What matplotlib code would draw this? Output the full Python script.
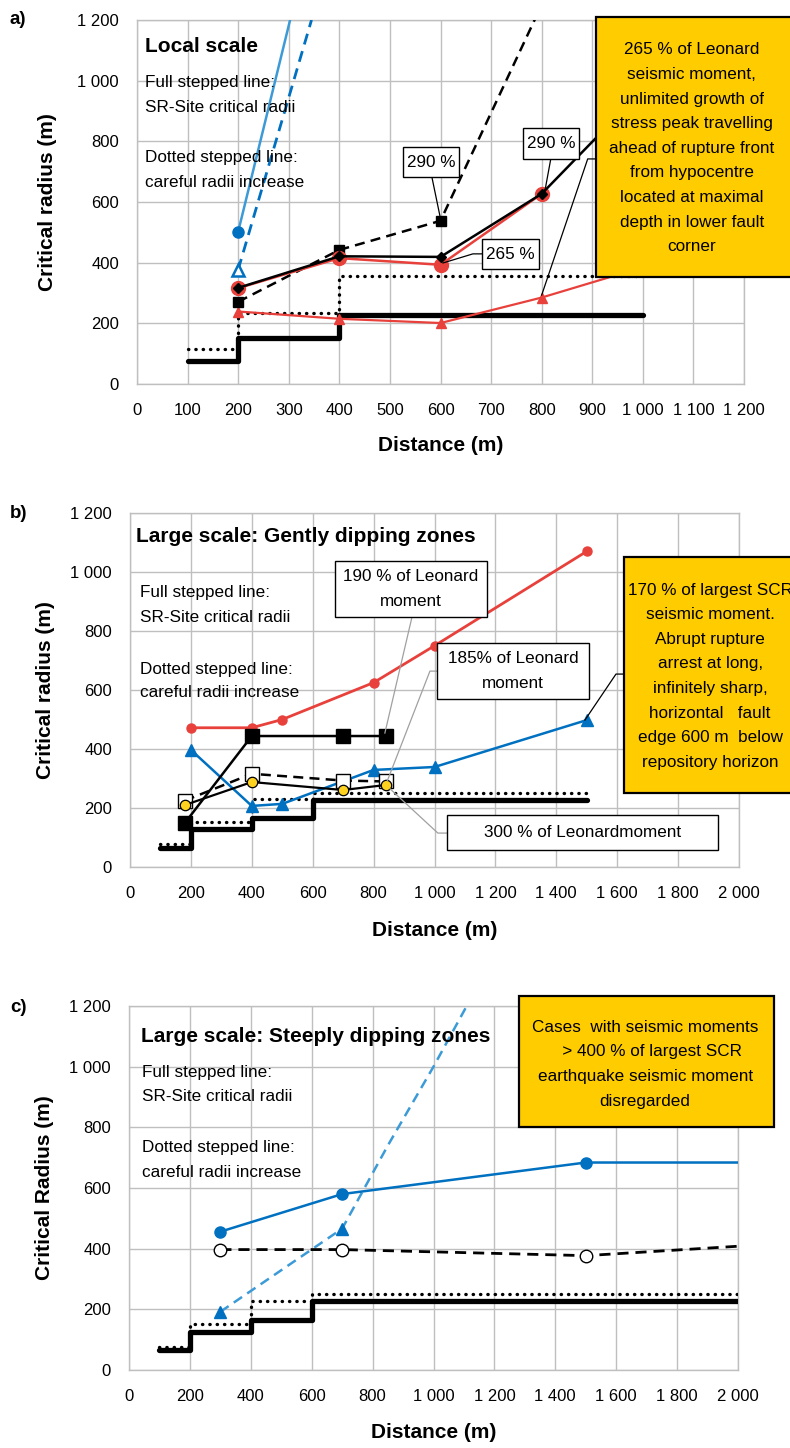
import matplotlib
matplotlib.use("Agg")
import matplotlib.pyplot as plt
from matplotlib.patches import Rectangle
from matplotlib.ticker import FuncFormatter

plt.rcParams['font.family'] = ['Liberation Sans', 'DejaVu Sans']

RED = '#E8413C'
BLUE = '#0070C0'
LIGHT_BLUE = '#3C9AD6'
YELLOW = '#FFCC00'
GRID = '#BFBFBF'
FS = 12.3

# ---- a) local scale ----
a_step_x = [100, 200, 400, 1000]
a_step_sr = [77, 152, 227, 227]
a_step_careful = [117, 234, 355, 355]

a_blue_x = [200, 310]
a_blue_y = [502, 1250]
a_blue_dash_x = [200, 345]
a_blue_dash_y = [377, 1200]
a_red_circ_x = [200, 400, 600, 800]
a_red_circ_y = [316, 415, 393, 627]
a_diam_x = [200, 400, 600, 800, 1000]
a_diam_y = [317, 421, 419, 627, 970]
a_sq_x = [200, 400, 600, 800]
a_sq_y = [271, 442, 538, 1250]
a_tri_x = [200, 400, 600, 800, 1000]
a_tri_y = [239, 215, 201, 285, 385]

# ---- b) gently dipping zones ----
b_step_x = [100, 200, 400, 600, 1500]
b_step_sr = [66, 130, 165, 227, 227]
b_step_careful = [78, 152, 230, 252, 252]

b_red_x = [200, 400, 500, 800, 1000, 1500]
b_red_y = [472, 472, 500, 625, 750, 1070]
b_tri_x = [200, 400, 500, 800, 1000, 1500]
b_tri_y = [397, 207, 214, 329, 339, 498]
b_sq_x = [180, 400, 700, 840]
b_sq_y = [149, 444, 444, 444]
b_wsq_x = [180, 400, 700, 840]
b_wsq_y = [225, 316, 293, 290]
b_yel_x = [180, 400, 700, 840]
b_yel_y = [210, 288, 261, 278]

# ---- c) steeply dipping zones ----
c_step_x = [100, 200, 400, 600, 2000]
c_step_sr = [66, 126, 165, 228, 228]
c_step_careful = [76, 152, 228, 252, 252]

c_blue_x = [300, 700, 1500, 2000]
c_blue_y = [456, 580, 684, 684]
c_dash_x = [300, 700, 850, 1000, 1120]
c_dash_y = [192, 466, 740, 1000, 1220]
c_open_x = [300, 700, 1500, 2000]
c_open_y = [397, 397, 377, 408]


def thousands(v, pos):
    return f"{int(v):,}".replace(",", " ")


def setup(ax, xmax, xstep):
    ax.set_xlim(0, xmax)
    ax.set_ylim(0, 1200)
    ax.set_xticks(range(0, xmax + 1, xstep))
    ax.set_yticks(range(0, 1201, 200))
    ax.xaxis.set_major_formatter(FuncFormatter(thousands))
    ax.yaxis.set_major_formatter(FuncFormatter(thousands))
    ax.grid(True, color=GRID, lw=1.0)
    ax.set_axisbelow(True)
    for s in ax.spines.values():
        s.set_color(GRID)
        s.set_linewidth(1.0)
    ax.tick_params(length=0, labelsize=12)
    ax.tick_params(axis='x', pad=14)
    ax.tick_params(axis='y', pad=13)


def steps(ax, x, sr, careful):
    ax.step(x, careful, where='post', color='black', lw=2.4,
            ls=(0, (0.1, 2.1)), dash_capstyle='round', zorder=3)
    ax.step(x, sr, where='post', color='black', lw=3.8,
            solid_capstyle='round', zorder=3)


def box(ax, x0, y0, x1, y1, text, fc='white', lw=1.0, ls=1.8):
    ax.add_patch(Rectangle((x0, y0), x1 - x0, y1 - y0, fc=fc, ec='black',
                           lw=lw, clip_on=False, zorder=8))
    ax.text((x0 + x1) / 2, (y0 + y1) / 2, text, ha='center', va='center',
            fontsize=FS, linespacing=ls, zorder=9, clip_on=False)


def leader(ax, xs, ys, color='black', lw=0.9):
    ax.plot(xs, ys, color=color, lw=lw, clip_on=False, zorder=7)


def legend_text(ax, x, title, y_title, y_lines):
    ax.text(x[0], y_title, title, fontsize=15, weight='bold', va='center', zorder=4)
    ax.text(x[1], y_lines[0], 'Full stepped line:', fontsize=FS, va='center', zorder=4)
    ax.text(x[1], y_lines[1], 'SR-Site critical radii', fontsize=FS, va='center', zorder=4)
    ax.text(x[1], y_lines[2], 'Dotted stepped line:', fontsize=FS, va='center', zorder=4)
    ax.text(x[1], y_lines[3], 'careful radii increase', fontsize=FS, va='center', zorder=4)


def labels(ax, ylabel, yx, xy):
    ax.text(yx, 0.5, ylabel, transform=ax.transAxes, rotation=90,
            ha='center', va='center', fontsize=15, weight='bold')
    ax.text(0.5, xy, 'Distance (m)', transform=ax.transAxes,
            ha='center', va='center', fontsize=15, weight='bold')


fig = plt.figure(figsize=(7.9, 14.48), dpi=100)


def px_axes(left, top, right, bottom):
    return fig.add_axes([left / 790, 1 - bottom / 1448,
                         (right - left) / 790, (bottom - top) / 1448])


ax_a = px_axes(137, 20, 744, 384)
ax_b = px_axes(130, 513, 739, 867)
ax_c = px_axes(129, 1006, 738, 1370)

# ---------------- a) ----------------
ax = ax_a
setup(ax, 1200, 100)
steps(ax, a_step_x, a_step_sr, a_step_careful)
ax.plot(a_blue_x, a_blue_y, color=LIGHT_BLUE, lw=1.8, zorder=4)
ax.plot(a_blue_x[:1], a_blue_y[:1], 'o', color=BLUE, ms=8, zorder=5)
ax.plot(a_blue_dash_x, a_blue_dash_y, color=BLUE, lw=2.0, ls=(0, (4, 2.5)), zorder=4)
ax.plot(a_blue_dash_x[:1], a_blue_dash_y[:1], '^', mfc='white', mec=BLUE,
        mew=1.8, ms=9, zorder=5)
ax.plot(a_tri_x, a_tri_y, color=RED, lw=1.6, marker='^', ms=7,
        markevery=[0, 1, 2, 3], zorder=4)
ax.plot(a_sq_x, a_sq_y, color='black', lw=1.8, ls=(0, (4, 2.5)), marker='s',
        ms=7, markevery=[0, 1, 2], zorder=4)
ax.plot(a_red_circ_x, a_red_circ_y, color=RED, lw=1.8, marker='o', ms=10, zorder=4)
ax.plot(a_diam_x, a_diam_y, color='black', lw=1.8, marker='D', ms=5.5,
        markevery=[0, 1, 2, 3], zorder=5)

legend_text(ax, (16, 16), 'Local scale', 1111, [993, 910, 746, 663])

box(ax, 526, 682, 636, 781, '290 %')
leader(ax, [583, 600], [682, 545])
box(ax, 763, 742, 874, 844, '290 %')
leader(ax, [818, 806], [742, 633])
box(ax, 682, 379, 794, 478, '265 %')
leader(ax, [682, 664, 605], [429, 429, 399])

ax.add_patch(Rectangle((907, 353), 420, 857, fc=YELLOW, ec='black', lw=1.6,
                       clip_on=False, zorder=8))
ax.text(1097, 777, '265 % of Leonard\nseismic moment,\nunlimited growth of\n'
        'stress peak travelling\nahead of rupture front\nfrom hypocentre\n'
        'located at maximal\ndepth in lower fault\ncorner',
        ha='center', va='center', fontsize=FS, linespacing=1.8, zorder=9,
        clip_on=False)
leader(ax, [907, 891, 800], [742, 742, 293])

labels(ax, 'Critical radius (m)', -0.148, -0.168)

# ---------------- b) ----------------
ax = ax_b
setup(ax, 2000, 200)
steps(ax, b_step_x, b_step_sr, b_step_careful)
ax.plot(b_red_x, b_red_y, color=RED, lw=2.0, marker='o', ms=6.5, zorder=4)
ax.plot(b_tri_x, b_tri_y, color=BLUE, lw=1.8, marker='^', ms=8, zorder=4)
ax.plot(b_sq_x, b_sq_y, color='black', lw=1.8, marker='s', ms=10, zorder=4)
ax.plot(b_wsq_x, b_wsq_y, color='black', lw=1.8, ls=(0, (4, 2.5)), marker='s',
        ms=9.5, mfc='white', mec='black', mew=1.0, zorder=5)
ax.plot(b_yel_x, b_yel_y, color='black', lw=1.6, marker='o', ms=7.5,
        mfc='#FFD21F', mec='black', mew=0.9, zorder=6)

legend_text(ax, (20, 33), 'Large scale: Gently dipping zones', 1119,
            [929, 847, 671, 590])

box(ax, 673, 847, 1172, 1037, '190 % of Leonard\nmoment')
leader(ax, [926, 837], [847, 454], color='#A0A0A0')
box(ax, 1008, 569, 1507, 759, '185% of Leonard\nmoment')
leader(ax, [1008, 985, 845], [664, 664, 292], color='#A0A0A0')
box(ax, 1041, 58, 1931, 176, '300 % of Leonardmoment')
leader(ax, [1041, 1011, 854], [115, 115, 265], color='#A0A0A0')

ax.add_patch(Rectangle((1622, 251), 700, 800, fc=YELLOW, ec='black', lw=1.6,
                       clip_on=False, zorder=8))
ax.text(1905, 647, '170 % of largest SCR\nseismic moment.\nAbrupt rupture\n'
        'arrest at long,\ninfinitely sharp,\nhorizontal   fault\n'
        'edge 600 m  below\nrepository horizon',
        ha='center', va='center', fontsize=FS, linespacing=1.8, zorder=9,
        clip_on=False)
leader(ax, [1622, 1596, 1494], [654, 654, 498])

labels(ax, 'Critical radius (m)', -0.138, -0.178)

# ---------------- c) ----------------
ax = ax_c
setup(ax, 2000, 200)
steps(ax, c_step_x, c_step_sr, c_step_careful)
ax.plot(c_dash_x, c_dash_y, color=LIGHT_BLUE, lw=1.8, ls=(0, (4, 2.5)), zorder=4)
ax.plot(c_dash_x[:2], c_dash_y[:2], '^', color=BLUE, ms=9, zorder=5)
ax.plot(c_blue_x, c_blue_y, color=BLUE, lw=1.8, marker='o', ms=8,
        markevery=[0, 1, 2], zorder=4)
ax.plot(c_open_x, c_open_y, color='black', lw=2.0, ls=(0, (4, 2.5)), marker='o',
        ms=9, mfc='white', mec='black', mew=1.0, markevery=[0, 1, 2], zorder=4)

legend_text(ax, (39, 43), 'Large scale: Steeply dipping zones', 1101,
            [982, 902, 734, 651])

ax.add_patch(Rectangle((1281, 800), 837, 433, fc=YELLOW, ec='black', lw=1.6,
                       clip_on=False, zorder=8))
ax.text(1695, 1008, 'Cases  with seismic moments\n   > 400 % of largest SCR\n'
        'earthquake seismic moment\ndisregarded',
        ha='center', va='center', fontsize=FS, linespacing=1.8, zorder=9,
        clip_on=False)

labels(ax, 'Critical Radius (m)', -0.138, -0.173)

for lbl, y in (('a)', 20), ('b)', 513), ('c)', 1007)):
    fig.text(10 / 790, 1 - y / 1448, lbl, fontsize=13.5, weight='bold', va='center')

fig.savefig('out.png', dpi=100)
